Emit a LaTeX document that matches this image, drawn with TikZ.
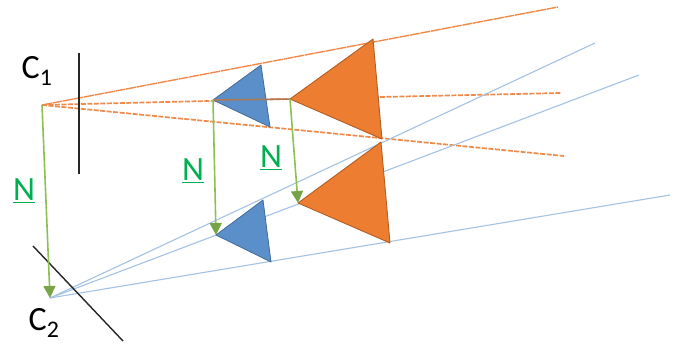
\documentclass[tikz,border=0pt]{standalone}
\usepackage{fontspec}
\setmainfont{Carlito}
\usetikzlibrary{arrows.meta}
\definecolor{rayorange}{HTML}{F08A4B}
\definecolor{rayblue}{HTML}{A3C2E4}
\definecolor{triorange}{HTML}{ED7D31}
\definecolor{triblue}{HTML}{5B8FC9}
\definecolor{normalgreen}{HTML}{8CC152}
\definecolor{labelgreen}{HTML}{00B050}
\definecolor{raybrown}{HTML}{B0784F}
\tikzset{
  rayfirst/.style={rayorange,line width=1.4pt,dash pattern=on 10pt off 0.7pt},
  raydash/.style={rayorange,line width=1.7pt,dash pattern=on 5pt off 1.5pt},
  raysecond/.style={rayblue,line width=1.1pt},
  orangetri/.style={fill=triorange,draw=triorange!75!black,line width=0.9pt,line join=round},
  bluetri/.style={fill=triblue,draw=triblue!75!black,line width=0.8pt,line join=round},
  normalarrow/.style={normalgreen,line width=1.6pt,-{Triangle[length=12pt,width=12pt,color=normalgreen!85!black]}},
  normallabel/.style={labelgreen,font=\fontsize{34}{34}\selectfont},
  camlabel/.style={black,font=\fontsize{34}{34}\selectfont},
  imgplane/.style={black!85,line width=1.4pt}
}
\begin{document}
\begin{tikzpicture}[x=1pt,y=-1pt]
  \useasboundingbox (0,0) rectangle (678,345);
  % centres
  \coordinate (c1) at (42,105);
  \coordinate (c2) at (50,298);
  % triangles seen from c1
  \coordinate (bluea) at (213,100);
  \coordinate (blueb) at (261,65);
  \coordinate (bluec) at (270,127);
  \coordinate (oranga) at (290,99);
  \coordinate (orangb) at (373,39);
  \coordinate (orangc) at (382,139);
  % triangles seen from c2
  \coordinate (bluea2) at (216,235);
  \coordinate (blueb2) at (263,200);
  \coordinate (bluec2) at (271,262);
  \coordinate (oranga2) at (298,203);
  \coordinate (orangb2) at (381,142);
  \coordinate (orangc2) at (390,243);
  % free ends of the rays
  \coordinate (endtop) at (558,7);
  \coordinate (endmid) at (561,93);
  \coordinate (endlow) at (564,156);
  \coordinate (endtop2) at (595,43);
  \coordinate (endmid2) at (639,75);
  \coordinate (endlow2) at (670,195);
  % image planes
  \coordinate (plane1a) at (79,53);
  \coordinate (plane1b) at (79,174);
  \coordinate (plane2a) at (33,246);
  \coordinate (plane2b) at (123,341);

  \draw[rayfirst] (c1) -- (endtop);
  \draw[raydash] (c1) -- (oranga) -- (endmid);
  \draw[raydash] (c1) -- (endlow);
  \draw[raysecond] (c2) -- (endtop2);
  \draw[raysecond] (c2) -- (endmid2);
  \draw[raysecond] (c2) -- (endlow2);

  \draw[imgplane] (plane1a) -- (plane1b);
  \draw[imgplane] (plane2a) -- (plane2b);

  \draw[bluetri] (bluea) -- (blueb) -- (bluec) -- cycle;
  \draw[orangetri] (oranga) -- (orangb) -- (orangc) -- cycle;
  \draw[bluetri] (bluea2) -- (blueb2) -- (bluec2) -- cycle;
  \draw[orangetri] (oranga2) -- (orangb2) -- (orangc2) -- cycle;
  \draw[raybrown,line width=1.5pt] (bluea) -- (oranga);

  \draw[normalarrow] (c1) -- (c2);
  \draw[normalarrow] (bluea) -- (bluea2);
  \draw[normalarrow] (oranga) -- (oranga2);

  \node[camlabel] (c1label) at (37,71) {C\textsubscript{1}};
  \node[camlabel] (c2label) at (44,323) {C\textsubscript{2}};
  \node[normallabel] (n1) at (24,191) {\underline{N}};
  \node[normallabel] (n2) at (193,171) {\underline{N}};
  \node[normallabel] (n3) at (271,158) {\underline{N}};
\end{tikzpicture}
\end{document}
